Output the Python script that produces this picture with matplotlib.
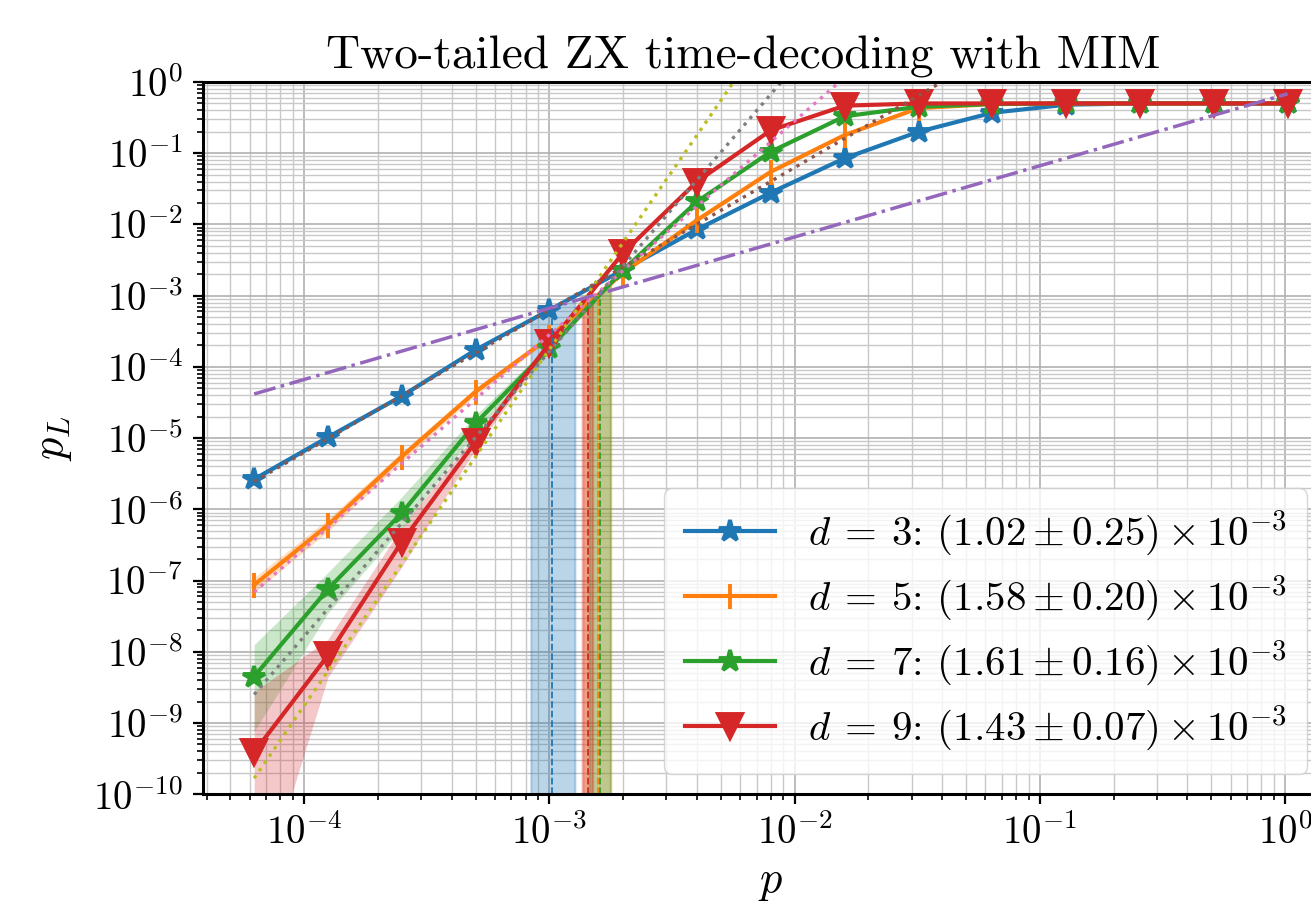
import numpy as np
import matplotlib
matplotlib.use('Agg')
import matplotlib.pyplot as plt
from matplotlib.ticker import LogLocator, FuncFormatter, NullFormatter

plt.rcParams['font.family'] = 'serif'
plt.rcParams['font.serif'] = ['cmr10']
plt.rcParams['mathtext.fontset'] = 'cm'
plt.rcParams['axes.unicode_minus'] = False

# physical error rates
p = np.array([6.25e-5, 1.25e-4, 2.5e-4, 5e-4, 1e-3, 2e-3, 4e-3, 8e-3,
              1.6e-2, 3.2e-2, 6.4e-2, 0.128, 0.256, 0.512, 1.024])

dists = [3, 5, 7, 9]
colors = ['tab:blue', 'tab:orange', 'tab:green', 'tab:red']
markers = ['*', '|', '*', 'v']
msizes = [16, 18, 16, 17]

pl_d3 = [2.65e-6, 1.03e-5, 3.9e-5, 1.73e-4, 6.3e-4, 2.3e-3, 8.5e-3, 2.8e-2,
         8.5e-2, 0.2, 0.37, 0.48, 0.5, 0.5, 0.5]
lo_d3 = [2.45e-6, 9.6e-6, 3.7e-5, 1.67e-4, 6.15e-4, 2.27e-3, 8.4e-3, 2.78e-2,
         8.45e-2, 0.199, 0.369, 0.479, 0.499, 0.499, 0.499]
hi_d3 = [2.9e-6, 1.1e-5, 4.1e-5, 1.79e-4, 6.5e-4, 2.33e-3, 8.6e-3, 2.82e-2,
         8.55e-2, 0.201, 0.371, 0.481, 0.501, 0.501, 0.501]

pl_d5 = [8.7e-8, 6.0e-7, 5.5e-6, 4.5e-5, 2.6e-4, 2.1e-3, 1.15e-2, 5.5e-2,
         0.18, 0.43, 0.49, 0.5, 0.5, 0.5, 0.5]
lo_d5 = [6.8e-8, 4.9e-7, 4.7e-6, 4.0e-5, 2.4e-4, 2.0e-3, 1.13e-2, 5.45e-2,
         0.179, 0.429, 0.489, 0.499, 0.499, 0.499, 0.499]
hi_d5 = [1.1e-7, 7.3e-7, 6.4e-6, 5.1e-5, 2.8e-4, 2.2e-3, 1.17e-2, 5.55e-2,
         0.181, 0.431, 0.491, 0.501, 0.501, 0.501, 0.501]

pl_d7 = [4.5e-9, 7.6e-8, 8.9e-7, 1.62e-5, 1.83e-4, 2.3e-3, 2.1e-2, 0.105,
         0.33, 0.45, 0.49, 0.5, 0.5, 0.5, 0.5]
lo_d7 = [7.6e-10, 3.5e-8, 5.4e-7, 1.23e-5, 1.65e-4, 2.2e-3, 2.07e-2, 0.104,
         0.329, 0.449, 0.489, 0.499, 0.499, 0.499, 0.499]
hi_d7 = [1.26e-8, 1.3e-7, 1.5e-6, 2.1e-5, 2.05e-4, 2.4e-3, 2.13e-2, 0.106,
         0.331, 0.451, 0.491, 0.501, 0.501, 0.501, 0.501]

pl_d9 = [3.9e-10, 8.9e-9, 3.5e-7, 8.9e-6, 2.15e-4, 4.0e-3, 4.0e-2, 0.21,
         0.465, 0.5, 0.5, 0.5, 0.5, 0.5, 0.5]
lo_d9 = [2e-12, 4.4e-9, 1.55e-7, 7.1e-6, 1.95e-4, 3.8e-3, 3.95e-2, 0.209,
         0.464, 0.499, 0.499, 0.499, 0.499, 0.499, 0.499]
hi_d9 = [2.75e-9, 1.5e-8, 5.6e-7, 1.12e-5, 2.35e-4, 4.2e-3, 4.05e-2, 0.211,
         0.466, 0.501, 0.501, 0.501, 0.501, 0.501, 0.501]

pl = [pl_d3, pl_d5, pl_d7, pl_d9]
pl_lo = [lo_d3, lo_d5, lo_d7, lo_d9]
pl_hi = [hi_d3, hi_d5, hi_d7, hi_d9]

# power-law fits  p_L = A * p^k
fit_coef = [630, 2.83e5, 1.65e8, 1.76e11]
fit_exp = [2, 3, 4, 5]
fit_colors = ['tab:brown', 'tab:pink', 'tab:gray', 'tab:olive']

# thresholds (x 1e-3)
thr = [1.02, 1.58, 1.61, 1.43]
thr_err = [0.25, 0.20, 0.16, 0.07]
thr_lo = [0.84, 1.38, 1.45, 1.36]
thr_hi = [1.27, 1.78, 1.77, 1.50]

fig = plt.figure(figsize=(13.11, 9.09), dpi=100)
ax = fig.add_axes([0.1545, 0.1262, 0.8669, 0.7836])
ax.set_xscale('log')
ax.set_yscale('log')

for i, d in enumerate(dists):
    c = colors[i]
    y = np.array(pl[i])
    ax.fill_between(p, pl_lo[i], pl_hi[i], color=c, alpha=0.25, linewidth=0)
    ax.plot(p, y, color=c, marker=markers[i], ms=msizes[i], mew=2.8, lw=3.0,
            label=r'$d\:=\:%d$: $(%.2f \pm %.2f) \times 10^{-3}$' % (d, thr[i], thr_err[i]))

# threshold bands up to the curve
for i in range(4):
    c = colors[i]
    lp = np.log10(p)
    ly = np.log10(pl[i])
    xs = np.geomspace(thr_lo[i] * 1e-3, thr_hi[i] * 1e-3, 30)
    top = 10 ** np.interp(np.log10(xs), lp, ly)
    ax.fill_between(xs, 1e-10, top, color=c, alpha=0.3, linewidth=1.5)
    t = thr[i] * 1e-3
    ttop = 10 ** np.interp(np.log10(t), lp, ly)
    ax.plot([t, t], [1e-10, ttop], color=c, ls='--', lw=1.3)

for i in range(4):
    ax.plot(p, fit_coef[i] * p ** fit_exp[i], color=fit_colors[i], ls=':', lw=2.4)

ax.plot(p, 2 * p / 3, color='tab:purple', ls='-.', lw=2.5)

ax.set_xlim(3.85e-5, 1.66)
ax.set_ylim(1e-10, 1)

fmt = FuncFormatter(lambda v, pos: r'$10^{%d}$' % int(round(np.log10(v))))
for axis in (ax.xaxis, ax.yaxis):
    axis.set_major_locator(LogLocator(base=10, numticks=30))
    axis.set_minor_locator(LogLocator(base=10, subs=np.arange(2, 10), numticks=30))
    axis.set_major_formatter(fmt)
    axis.set_minor_formatter(NullFormatter())

ax.tick_params(which='major', labelsize=28, length=7, width=1.6, direction='out', pad=7)
ax.tick_params(which='minor', length=4, width=1.2, direction='out')
for s in ax.spines.values():
    s.set_linewidth(2.2)

ax.grid(True, which='major', color='#b0b0b0', lw=1.2)
ax.grid(True, which='minor', color='#c8c8c8', lw=1.0)
ax.set_axisbelow(True)

ax.set_xlabel(r'$p$', fontsize=32, labelpad=8)
ax.set_ylabel(r'$p_L$', fontsize=32, labelpad=14)
ax.set_title('Two-tailed ZX time-decoding with MIM', fontsize=34, x=0.4756, pad=10)

ax.legend(loc='lower right', bbox_to_anchor=(0.99, 0.0), fontsize=29.5,
          framealpha=0.8, handlelength=2.2, labelspacing=0.38, borderpad=0.5)

fig.savefig('out.png', dpi=100)
